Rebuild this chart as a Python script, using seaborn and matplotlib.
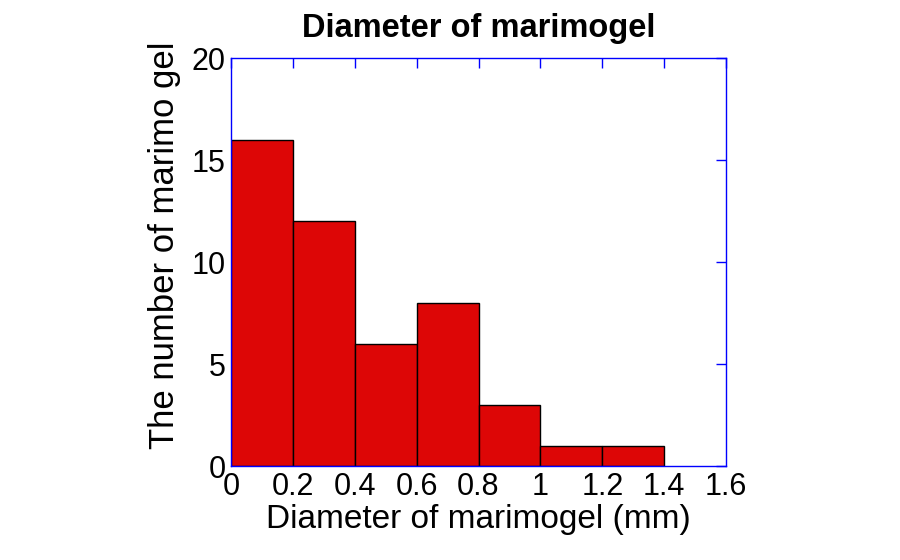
import matplotlib
matplotlib.use("Agg")
import matplotlib.pyplot as plt
import seaborn as sns
import numpy as np

bin_edges = [0, 0.2, 0.4, 0.6, 0.8, 1.0, 1.2, 1.4]
counts = [16, 12, 6, 8, 3, 1, 1]
x_ticks = [0, 0.2, 0.4, 0.6, 0.8, 1, 1.2, 1.4, 1.6]
x_tick_labels = ["0", "0.2", "0.4", "0.6", "0.8", "1", "1.2", "1.4", "1.6"]
y_ticks = [0, 5, 10, 15, 20]

sns.set_style("white")
plt.rcParams['font.family'] = ['Liberation Sans', 'DejaVu Sans']
plt.rcParams['text.color'] = 'black'
plt.rcParams['axes.labelcolor'] = 'black'

centers = [(bin_edges[i] + bin_edges[i + 1]) / 2 for i in range(len(counts))]

fig = plt.figure(figsize=(9, 5.6), dpi=100)
ax = fig.add_axes([231 / 900, 1 - 466 / 560, (726 - 231) / 900, (466 - 58) / 560])
sns.histplot(x=centers, weights=counts, bins=bin_edges, ax=ax,
             color="#DD0606", alpha=1, edgecolor="black", linewidth=1)

ax.set_xlim(0, 1.6)
ax.set_ylim(0, 20)
ax.set_xticks(x_ticks)
ax.set_xticklabels(x_tick_labels)
ax.set_yticks(y_ticks)
ax.tick_params(axis="both", direction="in", length=7, width=1, color="blue",
               labelcolor="black", labelsize=22, top=True, right=True, pad=4)
for s in ax.spines.values():
    s.set_color("blue")
    s.set_linewidth(1)
    s.set_visible(True)

ax.set_xlabel("Diameter of marimogel (mm)", fontsize=24, labelpad=2, color="black")
ax.set_ylabel("The number of marimo gel", fontsize=25, color="black")
ax.yaxis.set_label_coords(-0.102, 0.54)
ax.set_title("Diameter of marimogel", fontsize=23.5, fontweight="bold", pad=15, color="black")

fig.savefig("out.png", dpi=100)
